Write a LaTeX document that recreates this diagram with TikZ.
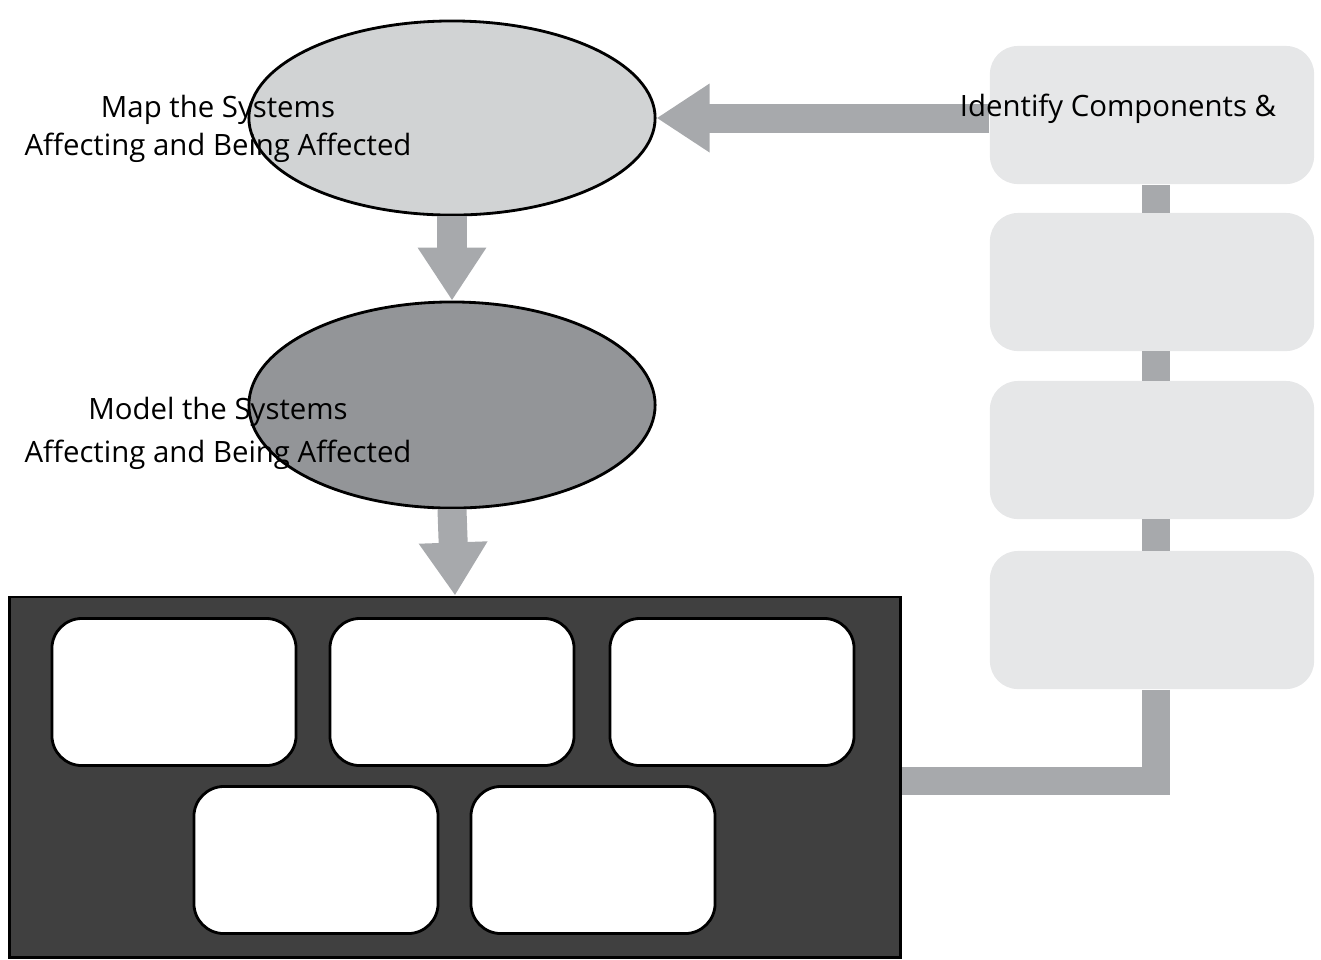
\documentclass[tikz,border=0pt]{standalone}
\usepackage{fontspec}
\setmainfont{Open Sans}
\usetikzlibrary{shapes.geometric, arrows.meta}
\definecolor{arrowgray}{HTML}{A7A9AC}
\definecolor{mapfill}{HTML}{D1D3D4}
\definecolor{modelfill}{HTML}{939598}
\definecolor{stackfill}{HTML}{E6E7E8}
\definecolor{panelfill}{HTML}{404040}
\tikzset{
	fatarrow/.style={draw=arrowgray, line width=0.29cm, -{Triangle[width=0.65cm, length=0.53cm]}},
	bar/.style={draw=arrowgray, line width=0.28cm, line join=miter},
	bubble/.style={ellipse, draw, line width=0.8pt, minimum width=4.06cm, inner sep=0pt},
	stackbox/.style={rectangle, rounded corners=0.28cm, fill=stackfill, minimum width=3.24cm, minimum height=1.38cm, inner sep=0pt},
	slot/.style={rectangle, rounded corners=0.3cm, draw, fill=white, line width=0.8pt, minimum width=2.44cm, minimum height=1.47cm, inner sep=0pt},
	label/.style={align=center, font=\fontsize{8.35}{10.8}\selectfont}
}
\begin{document}
\begin{tikzpicture}[x=0.01cm, y=-0.01cm]
		\useasboundingbox (0,0) rectangle (1321,959);
		
		% ellipses
		\node[bubble, fill=mapfill, minimum height=1.94cm] (map) at (452,118) {};
		\node[bubble, fill=modelfill, minimum height=2.06cm] (model) at (452,405) {};
		
		% panel with slots
		\node[rectangle, draw, fill=panelfill, line width=0.8pt, minimum width=8.9cm, minimum height=3.6cm, inner sep=0pt] (panel) at (455,777) {};
		\node[slot] (slotA) at (174,692) {};
		\node[slot] (slotB) at (452,692) {};
		\node[slot] (slotC) at (732,692) {};
		\node[slot] (slotD) at (316,860) {};
		\node[slot] (slotE) at (593,860) {};
		
		% right column
		\node[stackbox] (stackA) at (1152,115) {};
		\node[stackbox] (stackB) at (1152,282) {};
		\node[stackbox] (stackC) at (1152,450) {};
		\node[stackbox] (stackD) at (1152,620) {};
		
		\draw[bar] (1156,185) -- (1156,213);
		\draw[bar] (1156,351) -- (1156,381);
		\draw[bar] (1156,519) -- (1156,551);
		\draw[bar] (stackD.south -| 1156,0) |- (panel.east |- 0,781);
		
		% arrows
		\draw[fatarrow] (map.south) -- (model.north);
		\draw[fatarrow] (model.south) -- (panel.north);
		\draw[fatarrow] (stackA.west |- map.east) -- (map.east);
		
		% text
		\node[label] (maptext) at (218,129) {Map the Systems\\Affecting and Being Affected};
		\node[label] (modeltext) at (218,433) {Model the Systems\\[1.4pt]Affecting and Being Affected};
		\node[label] (stacktext) at (1118,109) {Identify Components \&};
	\end{tikzpicture}
\end{document}
